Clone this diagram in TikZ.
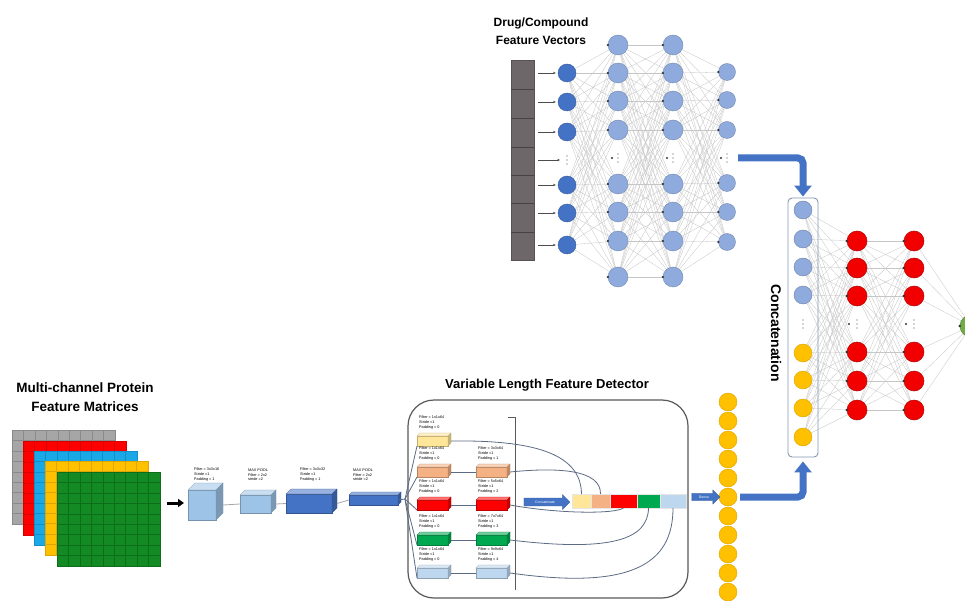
\documentclass[tikz,border=0pt]{standalone}
\usepackage{fontspec}
\setmainfont{Liberation Sans}
\usetikzlibrary{arrows.meta,shapes.arrows,backgrounds,calc}

\definecolor{nnblue}{HTML}{4472C4}
\definecolor{nnlight}{HTML}{8FAADC}
\definecolor{nnred}{HTML}{F20000}
\definecolor{nnyellow}{HTML}{FFC000}
\definecolor{nngreen}{HTML}{70AD47}
\definecolor{bargray}{HTML}{6E6769}
\definecolor{catedge}{HTML}{8497B0}
\definecolor{fancol}{HTML}{5B6B85}
\definecolor{cubelight}{HTML}{9DC3E6}
\definecolor{kyellow}{HTML}{FFE699}
\definecolor{kpeach}{HTML}{F4B183}
\definecolor{kred}{HTML}{FF0000}
\definecolor{kgreen}{HTML}{00A84F}
\definecolor{kblue}{HTML}{BDD7EE}
\definecolor{pgrayf}{HTML}{A6A6A6}
\definecolor{pgrayl}{HTML}{8A8A8A}
\definecolor{predf}{HTML}{FF0000}
\definecolor{predl}{HTML}{D40000}
\definecolor{pbluef}{HTML}{1AA9E6}
\definecolor{pbluel}{HTML}{118FC8}
\definecolor{pyellowf}{HTML}{FFC000}
\definecolor{pyellowl}{HTML}{DDA600}
\definecolor{pgreenf}{HTML}{138A24}
\definecolor{pgreenl}{HTML}{0C6E19}

% a small 3-D block: name, x, y (front top-left), width, height, depth, colour
\newcommand\tcube[7]{%
  \node[fill=#7, draw=#7!75!black, line width=0.3pt, minimum width=#4pt,
        minimum height=#5pt, inner sep=0pt, outer sep=0pt, anchor=north west] (#1) at (#2,#3) {};
  \filldraw[fill=#7!55!white, draw=#7!75!black, line width=0.3pt]
     (#1.north west) -- ++(#6,-#6) -- ++(#4,0) -- (#1.north east) -- cycle;
  \filldraw[fill=#7!78!black, draw=#7!75!black, line width=0.3pt]
     (#1.north east) -- ++(#6,-#6) -- ++(0,#5) -- (#1.south east) -- cycle;
}

% one channel of the protein feature matrix: name, x, y, fill, grid colour
\newcommand\protsq[5]{%
  \node[fill=#4, draw=#5, line width=0.5pt, minimum width=103pt, minimum height=94pt,
        inner sep=0pt, outer sep=0pt, anchor=north west] (#1) at (#2,#3) {};
  \foreach \k in {1,...,8}{%
    \draw[#5, line width=0.5pt] ($(#1.north west)+({\k*103/9},0)$) -- ($(#1.south west)+({\k*103/9},0)$);
    \draw[#5, line width=0.5pt] ($(#1.north west)+(0,{\k*94/9})$) -- ($(#1.north east)+(0,{\k*94/9})$);
  }%
}

% the "more units" mark of a layer: name, x, y
\newcommand\skipmark[3]{%
  \coordinate (#1) at (#2,#3);
  \foreach \d in {-4,0,4} \fill[gray!65] ($(#1)+(0,\d)$) circle (0.8pt);
}

\begin{document}
\begin{tikzpicture}[x=1pt,y=-1pt,
  conn/.style={draw=gray!45, line width=0.3pt},
  dnode/.style={circle, fill=nnblue, draw=nnblue!80!black, line width=0.4pt, minimum size=18pt, inner sep=0pt},
  lnode/.style={circle, fill=nnlight, draw=nnlight!80!black, line width=0.4pt, minimum size=20pt, inner sep=0pt},
  onode/.style={circle, fill=nnlight, draw=nnlight!80!black, line width=0.4pt, minimum size=17pt, inner sep=0pt},
  cnode/.style={circle, fill=nnlight, draw=nnlight!75!black, line width=0.4pt, minimum size=18pt, inner sep=0pt},
  ynode/.style={circle, fill=nnyellow, draw=nnyellow!85!black, line width=0.4pt, minimum size=18pt, inner sep=0pt},
  rnode/.style={circle, fill=nnred, draw=nnred!75!black, line width=0.5pt, minimum size=20pt, inner sep=0pt},
  gnode/.style={circle, fill=nngreen, draw=nngreen!75!black, line width=0.5pt, minimum size=22pt, inner sep=0pt},
  title/.style={font=\bfseries\fontsize{12}{18}\selectfont, align=center, inner sep=0pt},
  tinytxt/.style={font=\fontsize{3.8}{4.7}\selectfont, align=left, inner sep=0pt, anchor=south west},
  smallarr/.style={draw=black!70, line width=0.5pt, -{Stealth[length=2.8pt,width=2.4pt]}},
  bigarrow/.style={draw=nnblue, line width=7pt, rounded corners=5pt, -{Triangle[width=17pt,length=11pt]}},
  fanline/.style={draw=fancol, line width=0.8pt},
  seg/.style={minimum height=14pt, inner sep=0pt, outer sep=0pt, anchor=west, draw=white!80!gray, line width=0.3pt},
  blockarrow/.style={single arrow, fill=nnblue, draw=nnblue!80!black, line width=0.3pt, text=white,
                     font=\fontsize{3.5}{4}\selectfont, inner sep=2pt, single arrow head extend=3pt}]

\begin{pgfonlayer}{background}
  \fill[white] (0,0) rectangle (965,601);
\end{pgfonlayer}
\useasboundingbox (0,0) rectangle (965,601);

% ---------------- drug / compound network ----------------
\node[title] (drugtitle) at (541,31) {Drug/Compound\\Feature Vectors};

\node[fill=bargray, draw=bargray!80!black, line width=0.4pt, minimum width=23pt, minimum height=200pt,
      inner sep=0pt, outer sep=0pt] (drugbar) at (522.5,160) {};
\foreach \y in {89,118,147,175,203,232}
  \draw[bargray!65!black, line width=0.6pt] (511,\y) -- (534,\y);

\foreach \y [count=\i] in {73,102,132,185,213,245} \node[dnode] (in\i) at (567,\y) {};
\foreach \y [count=\i] in {45,73,101,130,184,212,241,277} \node[lnode] (ha\i) at (618,\y) {};
\foreach \y [count=\i] in {45,73,101,130,184,212,241,277} \node[lnode] (hb\i) at (673,\y) {};
\foreach \y [count=\i] in {72,100,130,183,212,242} \node[onode] (hc\i) at (727,\y) {};

\skipmark{dvin}{567}{160}
\skipmark{dva}{618}{158}
\skipmark{dvb}{673}{158}
\skipmark{dvc}{727}{158}

\foreach \i in {1,...,6} \draw[smallarr, shorten <=4pt, shorten >=2pt] (drugbar.east |- in\i) -- (in\i);
\draw[smallarr, shorten <=4pt, shorten >=7pt] (drugbar.east |- dvin) -- (dvin);

\begin{pgfonlayer}{background}
  \foreach \i in {1,...,6} \foreach \j in {1,...,8} \draw[conn] (in\i) -- (ha\j);
  \foreach \i in {1,...,8} \foreach \j in {1,...,8} \draw[conn] (ha\i) -- (hb\j);
  \foreach \i in {1,...,8} \foreach \j in {1,...,6} \draw[conn] (hb\i) -- (hc\j);
\end{pgfonlayer}

\foreach \i in {1,...,8} {\fill[black!80] (ha\i.west) circle (1.3pt); \fill[black!80] (hb\i.west) circle (1.3pt);}
\foreach \i in {1,...,6} \fill[black!80] (hc\i.west) circle (1.3pt);
\foreach \n in {dva,dvb,dvc} \fill[black!80] ([xshift=-6pt]\n) circle (1.2pt);

% ---------------- concatenation and joint network ----------------
\node[draw=catedge, line width=0.9pt, rounded corners=4pt, minimum width=30pt, minimum height=259pt,
      inner sep=0pt] (catbox) at (803,327.5) {};
\node[title, font=\bfseries\fontsize{14}{16}\selectfont, rotate=-90] (catlabel) at (776,333) {Concatenation};

\foreach \y [count=\i] in {210,239,267,295} \node[cnode] (cc\i) at (803,\y) {};
\foreach \y [count=\i] in {353,380,408,437} \node[ynode] (cy\i) at (803,\y) {};
\foreach \y [count=\i] in {241,268,296,352,381,410} \node[rnode] (ra\i) at (857,\y) {};
\foreach \y [count=\i] in {241,268,296,352,381,410} \node[rnode] (rb\i) at (914,\y) {};
\node[gnode] (outg) at (971,326) {};

\skipmark{dvcc}{803}{324}
\skipmark{dvra}{857}{324}
\skipmark{dvrb}{914}{324}

\begin{pgfonlayer}{background}
  \foreach \j in {1,...,6} {
    \foreach \i in {1,...,4} {\draw[conn] (cc\i) -- (ra\j); \draw[conn] (cy\i) -- (ra\j);}
    \foreach \i in {1,...,6} \draw[conn] (ra\i) -- (rb\j);
    \draw[conn] (rb\j) -- (outg);
  }
\end{pgfonlayer}
\foreach \i in {1,...,6} {\fill[black!80] (ra\i.west) circle (1.3pt); \fill[black!80] (rb\i.west) circle (1.3pt);}
\fill[black!80] (outg.west) circle (1.4pt);
\foreach \n in {dvra,dvrb} \fill[black!80] ([xshift=-8pt]\n) circle (1.2pt);

\draw[bigarrow, shorten <=11pt, shorten >=1pt] (dvc) -| (catbox.north);

% ---------------- protein feature matrices ----------------
\node[title, font=\bfseries\fontsize{13.5}{19}\selectfont] (prottitle) at (85,397.5) {Multi-channel Protein\\Feature Matrices};
\protsq{pgray}{12}{430}{pgrayf}{pgrayl}
\protsq{pred}{23}{441}{predf}{predl}
\protsq{pblue}{34}{451}{pbluef}{pbluel}
\protsq{pyellow}{45}{461}{pyellowf}{pyellowl}
\protsq{pgreen}{57}{472}{pgreenf}{pgreenl}

% ---------------- convolution / pooling stack ----------------
\tcube{b1}{188}{490}{28}{30}{7}{cubelight}
\tcube{b2}{240}{495}{31}{18}{5}{cubelight}
\tcube{b3}{286}{494}{46}{19}{5}{nnblue}
\tcube{b4}{349}{495}{49}{10}{3}{nnblue}

\coordinate (protout) at (167,503);
\draw[black, line width=3pt, -{Triangle[width=8pt,length=6pt]}, shorten >=4pt] (protout) -- (b1.west |- protout);

\draw[gray!70, line width=0.8pt] ([xshift=7pt]b1.east) -- (b2.west);
\draw[gray!70, line width=0.8pt] ([xshift=5pt]b2.east) -- (b3.west);
\draw[gray!70, line width=0.8pt] ([xshift=5pt]b3.east) -- (b4.west);

\node[tinytxt] (tb1) at (194,481) {Filter = 3x3x16\\Stride =1\\Padding = 1};
\node[tinytxt] (tb2) at (248,481) {MAX POOL\\Filter = 2x2\\stride =2};
\node[tinytxt] (tb3) at (300,481) {Filter = 3x3x32\\Stride =1\\Padding = 1};
\node[tinytxt] (tb4) at (353,481) {MAX POOL\\Filter = 2x2\\stride =2};

% ---------------- variable length feature detector ----------------
\node[title, font=\bfseries\fontsize{13}{15}\selectfont] (dettitle) at (547,385) {Variable Length Feature Detector};
\node[draw=black!65, line width=1.2pt, rounded corners=26pt, minimum width=280pt, minimum height=198pt,
      inner sep=0pt] (detbox) at (548,499) {};

\draw[black!65, line width=0.8pt] (508,417) -- (515,417) -- (515,590);

\tcube{ka1}{417}{436}{31}{10}{3}{kyellow}
\tcube{ka2}{417}{467}{31}{10}{3}{kpeach}
\tcube{ka3}{417}{500}{31}{10}{3}{kred}
\tcube{ka4}{417}{535}{31}{10}{3}{kgreen}
\tcube{ka5}{417}{568}{31}{10}{3}{kblue}
\tcube{kb2}{476}{467}{31}{10}{3}{kpeach}
\tcube{kb3}{476}{500}{31}{10}{3}{kred}
\tcube{kb4}{476}{535}{31}{10}{3}{kgreen}
\tcube{kb5}{476}{568}{31}{10}{3}{kblue}

\node[tinytxt] (tka1) at (419,429) {Filter = 1x1x64\\Stride =1\\Padding = 0};
\node[tinytxt] (tka2) at (419,460) {Filter = 1x1x64\\Stride =1\\Padding = 0};
\node[tinytxt] (tka3) at (419,493) {Filter = 1x1x64\\Stride =1\\Padding = 0};
\node[tinytxt] (tka4) at (419,528) {Filter = 1x1x64\\Stride =1\\Padding = 0};
\node[tinytxt] (tka5) at (419,561) {Filter = 1x1x64\\Stride =1\\Padding = 0};
\node[tinytxt] (tkb2) at (478,460) {Filter = 3x3x64\\Stride =1\\Padding = 1};
\node[tinytxt] (tkb3) at (478,493) {Filter = 5x5x64\\Stride =1\\Padding = 2};
\node[tinytxt] (tkb4) at (478,528) {Filter = 7x7x64\\Stride =1\\Padding = 3};
\node[tinytxt] (tkb5) at (478,561) {Filter = 9x9x64\\Stride =1\\Padding = 4};

\coordinate (fanroot) at (405,499);
\draw[fanline] (b4.east) -- (fanroot);
\foreach \n in {ka1,ka2,ka3,ka4,ka5} \draw[fanline] (fanroot) -- (\n.south west);
\foreach \i in {2,...,5} \draw[fanline] ([xshift=3pt]ka\i.east) -- (kb\i.west);

\node[blockarrow, minimum height=46pt, minimum width=15pt] (catarrow) at (545,502) {Concatenate};

\node[seg, fill=kyellow, minimum width=19pt] (sg1) at (572,501) {};
\node[seg, fill=kpeach, minimum width=19pt] (sg2) at (sg1.east) {};
\node[seg, fill=kred, minimum width=27pt] (sg3) at (sg2.east) {};
\node[seg, fill=kgreen, minimum width=23pt] (sg4) at (sg3.east) {};
\node[seg, fill=kblue, minimum width=26pt] (sg5) at (sg4.east) {};

\draw[fanline] ([xshift=3pt]ka1.east) .. controls (530,440) and (581,452) .. (sg1.north);
\draw[fanline] ([xshift=3pt]kb2.east) .. controls (560,467) and (601,470) .. (sg2.north);
\draw[fanline] ([xshift=3pt]kb3.east) .. controls (560,514) and (615,514) .. (sg3.south);
\draw[fanline] ([xshift=3pt]kb4.east) .. controls (610,552) and (648,540) .. (sg4.south);
\draw[fanline] ([xshift=3pt]kb5.east) .. controls (630,590) and (673,565) .. (sg5.south);

% ---------------- pooled protein vector ----------------
\foreach \k in {0,...,10} \node[ynode] (yc\k) at (728,{402+19*\k}) {};
\node[blockarrow, minimum height=28pt, minimum width=14pt] (outarrow) at (704,497) {Dense};

\draw[bigarrow, shorten <=3pt, shorten >=4pt] (yc5.east) -| (catbox.south);

\end{tikzpicture}
\end{document}
